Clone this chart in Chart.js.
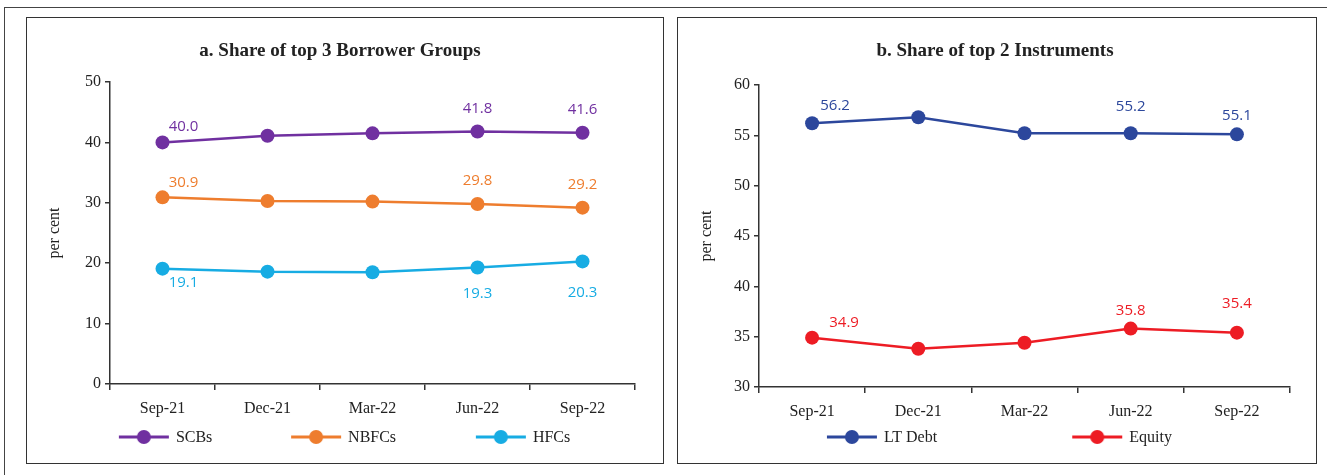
<!DOCTYPE html>
<html>
<head>
<meta charset="utf-8">
<script src="https://cdn.jsdelivr.net/npm/chart.js@4.4.0/dist/chart.umd.min.js"></script>
<style>
  html,body{margin:0;padding:0;background:#fff;}
  body{width:1327px;height:475px;position:relative;overflow:hidden;}
  .frameTop{position:absolute;left:4px;top:7px;width:1323px;height:0;border-top:1.5px solid #444;}
  .frameLeft{position:absolute;left:4px;top:7px;width:0;height:470px;border-left:1.5px solid #444;}
  .panel{position:absolute;border:1.5px solid #333;box-sizing:border-box;}
  .panel canvas{position:absolute;left:0;top:0;}
</style>
</head>
<body>
<div class="frameTop"></div>
<div class="frameLeft"></div>
<div class="panel" id="pA" style="left:26px;top:17px;width:638px;height:447px;"><canvas id="cA"></canvas></div>
<div class="panel" id="pB" style="left:677px;top:17px;width:640px;height:447px;"><canvas id="cB"></canvas></div>
<script>
// ---- Data ----
const categories = ['Sep-21', 'Dec-21', 'Mar-22', 'Jun-22', 'Sep-22'];
const scbs   = [40.0, 41.1, 41.5, 41.8, 41.6];
const nbfcs  = [30.9, 30.3, 30.2, 29.8, 29.2];
const hfcs   = [19.1, 18.6, 18.5, 19.3, 20.3];
const ltDebt = [56.2, 56.8, 55.2, 55.2, 55.1];
const equity = [34.9, 33.8, 34.4, 35.8, 35.4];
const leftTicks  = [0, 10, 20, 30, 40, 50];
const rightTicks = [30, 35, 40, 45, 50, 55, 60];
// indices of points carrying value labels
const labelledIdx = [0, 3, 4];

const SERIF = '"Liberation Serif", "DejaVu Serif", serif';
const SANS = '"Open Sans", "Noto Sans", sans-serif';
const AXIS = '#333';

function legendIcon(color){
  const c = document.createElement('canvas');
  c.width = 52; c.height = 16;
  const g = c.getContext('2d');
  g.strokeStyle = color; g.lineWidth = 3;
  g.beginPath(); g.moveTo(1, 8); g.lineTo(51, 8); g.stroke();
  g.fillStyle = color;
  g.beginPath(); g.arc(26, 8, 7, 0, Math.PI*2); g.fill();
  return c;
}

// plugin: title, y-title, value labels, legend
const decor = {
  id: 'decor',
  afterDatasetsDraw(chart, args, o){
    const ctx = chart.ctx;
    const ca = chart.chartArea;
    ctx.save();
    // title
    ctx.fillStyle = '#222';
    ctx.font = 'bold 19px ' + SERIF;
    ctx.textAlign = 'center'; ctx.textBaseline = 'middle';
    ctx.fillText(o.title, o.titleX, 33);
    // y title
    ctx.save();
    ctx.translate(o.yTitleX, (ca.top + ca.bottom)/2);
    ctx.rotate(-Math.PI/2);
    ctx.font = '16px ' + SERIF;
    ctx.fillText('per cent', 0, 0);
    ctx.restore();
    // value labels
    ctx.font = '15px ' + SANS;
    chart.data.datasets.forEach((ds, di) => {
      const meta = chart.getDatasetMeta(di);
      ctx.fillStyle = ds.borderColor;
      labelledIdx.forEach((j, k) => {
        const pt = meta.data[j];
        const off = o.offsets[di][k];
        ctx.fillText(ds.data[j].toFixed(1), pt.x + off[0], pt.y + off[1]);
      });
    });
    // legend
    ctx.font = '16px ' + SERIF;
    ctx.textAlign = 'left';
    const w = ca.right - ca.left;
    chart.data.datasets.forEach((ds, di) => {
      const x = ca.left + o.legendPos[di] * w;
      const y = o.legendY;
      ctx.drawImage(legendIcon(ds.borderColor), x, y - 8);
      ctx.fillStyle = '#222';
      ctx.fillText(ds.label, x + 58, y + 1);
    });
    ctx.restore();
  }
};

function makeChart(id, w, h, datasets, yMin, yMax, yStep, tickList, pad, yWidth, xHeight, decorOpts){
  const cv = document.getElementById(id);
  cv.width = w; cv.height = h;
  cv.style.width = w + 'px'; cv.style.height = h + 'px';
  return new Chart(cv, {
    type: 'line',
    data: { labels: categories, datasets },
    options: {
      responsive: false,
      animation: false,
      devicePixelRatio: 1,
      layout: { padding: pad },
      plugins: { legend: {display:false}, title:{display:false}, tooltip:{enabled:false}, decor: decorOpts },
      scales: {
        x: {
          offset: true,
          grid: { offset: true, drawOnChartArea: false, drawTicks: true, tickLength: 6, color: AXIS, lineWidth: 1.5 },
          border: { display: true, color: AXIS, width: 1.5 },
          ticks: { color: '#222', font: { family: SERIF, size: 16 }, padding: 9, maxRotation: 0 },
          afterFit(s){ s.height = xHeight; }
        },
        y: {
          min: yMin, max: yMax,
          afterBuildTicks(s){ s.ticks = tickList.map(v => ({value: v})); },
          grid: { drawOnChartArea: false, drawTicks: true, tickLength: 5, color: AXIS, lineWidth: 1.5 },
          border: { display: true, color: AXIS, width: 1.5 },
          ticks: { color: '#222', font: { family: SERIF, size: 16 }, padding: 4 },
          afterFit(s){ s.width = yWidth; }
        }
      }
    },
    plugins: [decor]
  });
}

function ds(label, data, color){
  return { label, data, borderColor: color, backgroundColor: color, borderWidth: 2.5,
           pointRadius: 7, pointBackgroundColor: color, pointBorderWidth: 0, tension: 0 };
}

makeChart('cA', 636, 445, [
    ds('SCBs', scbs, '#7030A0'),
    ds('NBFCs', nbfcs, '#EE7D2E'),
    ds('HFCs', hfcs, '#17ACE3')
  ], 0, 50, 10, leftTicks,
  { left: 0, top: 64, right: 28, bottom: 0 }, 83, 79,
  { title: 'a. Share of top 3 Borrower Groups', titleX: 313, yTitleX: 28, legendY: 419,
    legendPos: [0.015, 0.343, 0.695],
    offsets: [
      [[21,-16],[0,-23],[0,-23]],
      [[21,-15],[0,-23],[0,-23]],
      [[21,14],[0,26],[0,31]]
    ] });

makeChart('cB', 638, 445, [
    ds('LT Debt', ltDebt, '#2C479C'),
    ds('Equity', equity, '#ED1C24')
  ], 30, 60, 5, rightTicks,
  { left: 0, top: 67, right: 26, bottom: 0 }, 81, 76,
  { title: 'b. Share of top 2 Instruments', titleX: 317, yTitleX: 29, legendY: 419,
    legendPos: [0.126, 0.588],
    offsets: [
      [[23,-18],[0,-27],[0,-19]],
      [[32,-15],[0,-18],[0,-29]]
    ] });
</script>
</body>
</html>
